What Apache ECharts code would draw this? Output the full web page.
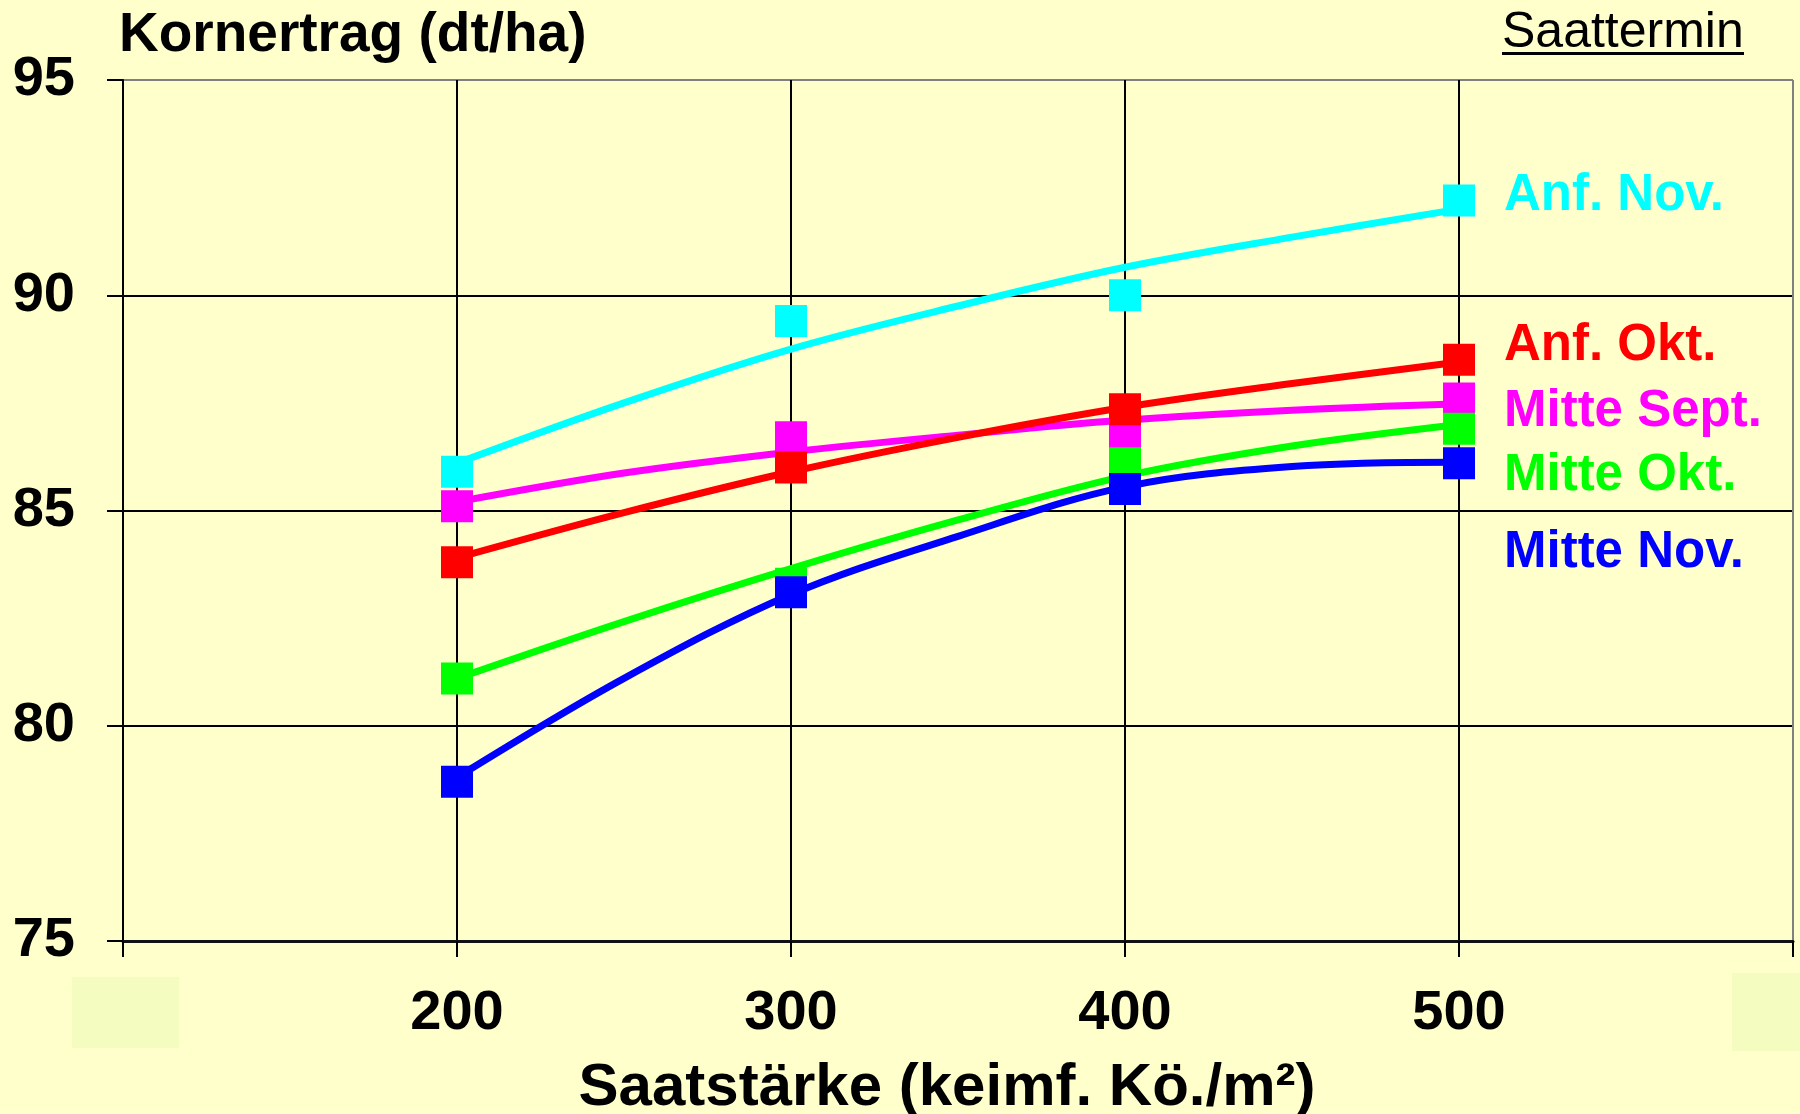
<!DOCTYPE html>
<html>
<head>
<meta charset="utf-8">
<script src="https://cdn.jsdelivr.net/npm/echarts@6/dist/echarts.min.js"></script>
<style>
html,body{margin:0;padding:0;background:#ffffcc;}
#chart{width:1800px;height:1114px;}
</style>
</head>
<body>
<div id="chart"></div>
<script>
// Data
var xCategories = [200, 300, 400, 500];
var xTickLabels = ['200', '300', '400', '500'];
var yTickLabels = ['75', '80', '85', '90', '95'];
var seriesNames = ['Mitte Sept.', 'Anf. Okt.', 'Mitte Okt.', 'Mitte Nov.', 'Anf. Nov.'];

// Observed values (markers)
var mitteSept = [85.1, 86.7, 86.8, 87.6];
var anfOkt    = [83.8, 86.0, 87.35, 88.5];
var mitteOkt  = [81.1, 83.3, 86.1, 86.9];
var mitteNov  = [78.7, 83.1, 85.5, 86.1];
var anfNov    = [85.9, 89.4, 90.0, 92.2];

// Trend curves
var trendX = [200, 250, 300, 350, 400, 450, 500];
var mitteSeptTrend = [85.2, 85.87, 86.36, 86.75, 87.1, 87.33, 87.48];
var anfOktTrend    = [83.9, 84.95, 85.9, 86.7, 87.4, 87.95, 88.45];
var mitteOktTrend  = [81.1, 82.42, 83.65, 84.78, 85.8, 86.5, 87.0];
var mitteNovTrend  = [78.8, 81.1, 83.05, 84.4, 85.55, 86.02, 86.12];
var anfNovTrend    = [86.1, 87.5, 88.75, 89.75, 90.65, 91.35, 92.0];

var colors = ['#ff00ff', '#ff0000', '#00ff00', '#0000ff', '#00ffff'];
var markerData = [mitteSept, anfOkt, mitteOkt, mitteNov, anfNov];
var trendData = [mitteSeptTrend, anfOktTrend, mitteOktTrend, mitteNovTrend, anfNovTrend];

var FONT = '"Liberation Sans", Arial, sans-serif';

function pairs(xs, ys) {
  return xs.map(function (x, i) { return [x, ys[i]]; });
}

var series = [];
trendData.forEach(function (d, i) {
  series.push({
    name: seriesNames[i] + ' Trend',
    type: 'line',
    data: pairs(trendX, d),
    smooth: 0.35,
    showSymbol: false,
    symbol: 'none',
    lineStyle: { color: colors[i], width: 7 },
    z: 3,
    silent: true
  });
});
markerData.forEach(function (d, i) {
  series.push({
    name: seriesNames[i],
    type: 'scatter',
    data: pairs(xCategories, d),
    symbol: 'rect',
    symbolSize: 32,
    itemStyle: { color: colors[i], opacity: 1 },
    z: 5
  });
});

var chart = echarts.init(document.getElementById('chart'), null, { renderer: 'canvas' });
chart.setOption({
  backgroundColor: '#ffffcc',
  animation: false,
  grid: { left: 123, right: 7, top: 80, bottom: 173, show: false, containLabel: false, outerBoundsMode: 'none' },
  xAxis: {
    type: 'value',
    min: 100, max: 600, interval: 100,
    axisLine: { show: true, onZero: false, lineStyle: { color: '#111', width: 3 } },
    axisTick: { show: true, inside: false, length: 16, lineStyle: { color: '#000', width: 2 } },
    axisLabel: {
      margin: 45,
      fontFamily: FONT, fontWeight: 'bold', fontSize: 56, color: '#000',
      formatter: function (v) {
        var idx = xCategories.indexOf(v);
        return idx >= 0 ? xTickLabels[idx] : '';
      }
    },
    splitLine: { show: true, lineStyle: { color: ['#808080', '#000', '#000', '#000', '#000', '#808080'], width: 2 } },
    name: 'Saatstärke (keimf. Kö./m²)',
    nameLocation: 'middle',
    nameGap: 117,
    nameTextStyle: { fontFamily: FONT, fontWeight: 'bold', fontSize: 60, color: '#000', padding: [0, 22, 0, 0] }
  },
  yAxis: {
    type: 'value',
    min: 75, max: 95, interval: 5,
    axisLine: { show: true, lineStyle: { color: '#000', width: 2 } },
    axisTick: { show: true, inside: false, length: 16, lineStyle: { color: '#000', width: 2 } },
    axisLabel: {
      margin: 48,
      fontFamily: FONT, fontWeight: 'bold', fontSize: 56, color: '#000',
      formatter: function (v) { return yTickLabels[Math.round((v - 75) / 5)]; }
    },
    splitLine: { show: true, lineStyle: { color: ['#000', '#000', '#000', '#000', '#808080'], width: 2 } }
  },
  graphic: [
    { type: 'rect', left: 72, top: 977, shape: { width: 107, height: 71 }, style: { fill: '#f4fcc0' }, z: 0 },
    { type: 'rect', left: 1732, top: 973, shape: { width: 68, height: 78 }, style: { fill: '#f4fcc0' }, z: 0 },
    { type: 'text', left: 119, top: 8, style: { text: 'Kornertrag (dt/ha)', font: 'bold 55px ' + FONT, fill: '#000' }, z: 10 },
    { type: 'text', left: 1502, top: 8, style: { text: 'Saattermin', font: '50px ' + FONT, fill: '#000' }, z: 10 },
    { type: 'rect', left: 1502, top: 52, shape: { width: 242, height: 3 }, style: { fill: '#000' }, z: 10 },
    { type: 'text', left: 1504, top: 170, style: { text: 'Anf. Nov.', font: 'bold 51px ' + FONT, fill: '#00ffff' }, z: 10 },
    { type: 'text', left: 1504, top: 320, style: { text: 'Anf. Okt.', font: 'bold 51px ' + FONT, fill: '#ff0000' }, z: 10 },
    { type: 'text', left: 1504, top: 386, style: { text: 'Mitte Sept.', font: 'bold 51px ' + FONT, fill: '#ff00ff' }, z: 10 },
    { type: 'text', left: 1504, top: 450, style: { text: 'Mitte Okt.', font: 'bold 51px ' + FONT, fill: '#00ff00' }, z: 10 },
    { type: 'text', left: 1504, top: 527, style: { text: 'Mitte Nov.', font: 'bold 51px ' + FONT, fill: '#0000ff' }, z: 10 }
  ],
  series: series
});
</script>
</body>
</html>
